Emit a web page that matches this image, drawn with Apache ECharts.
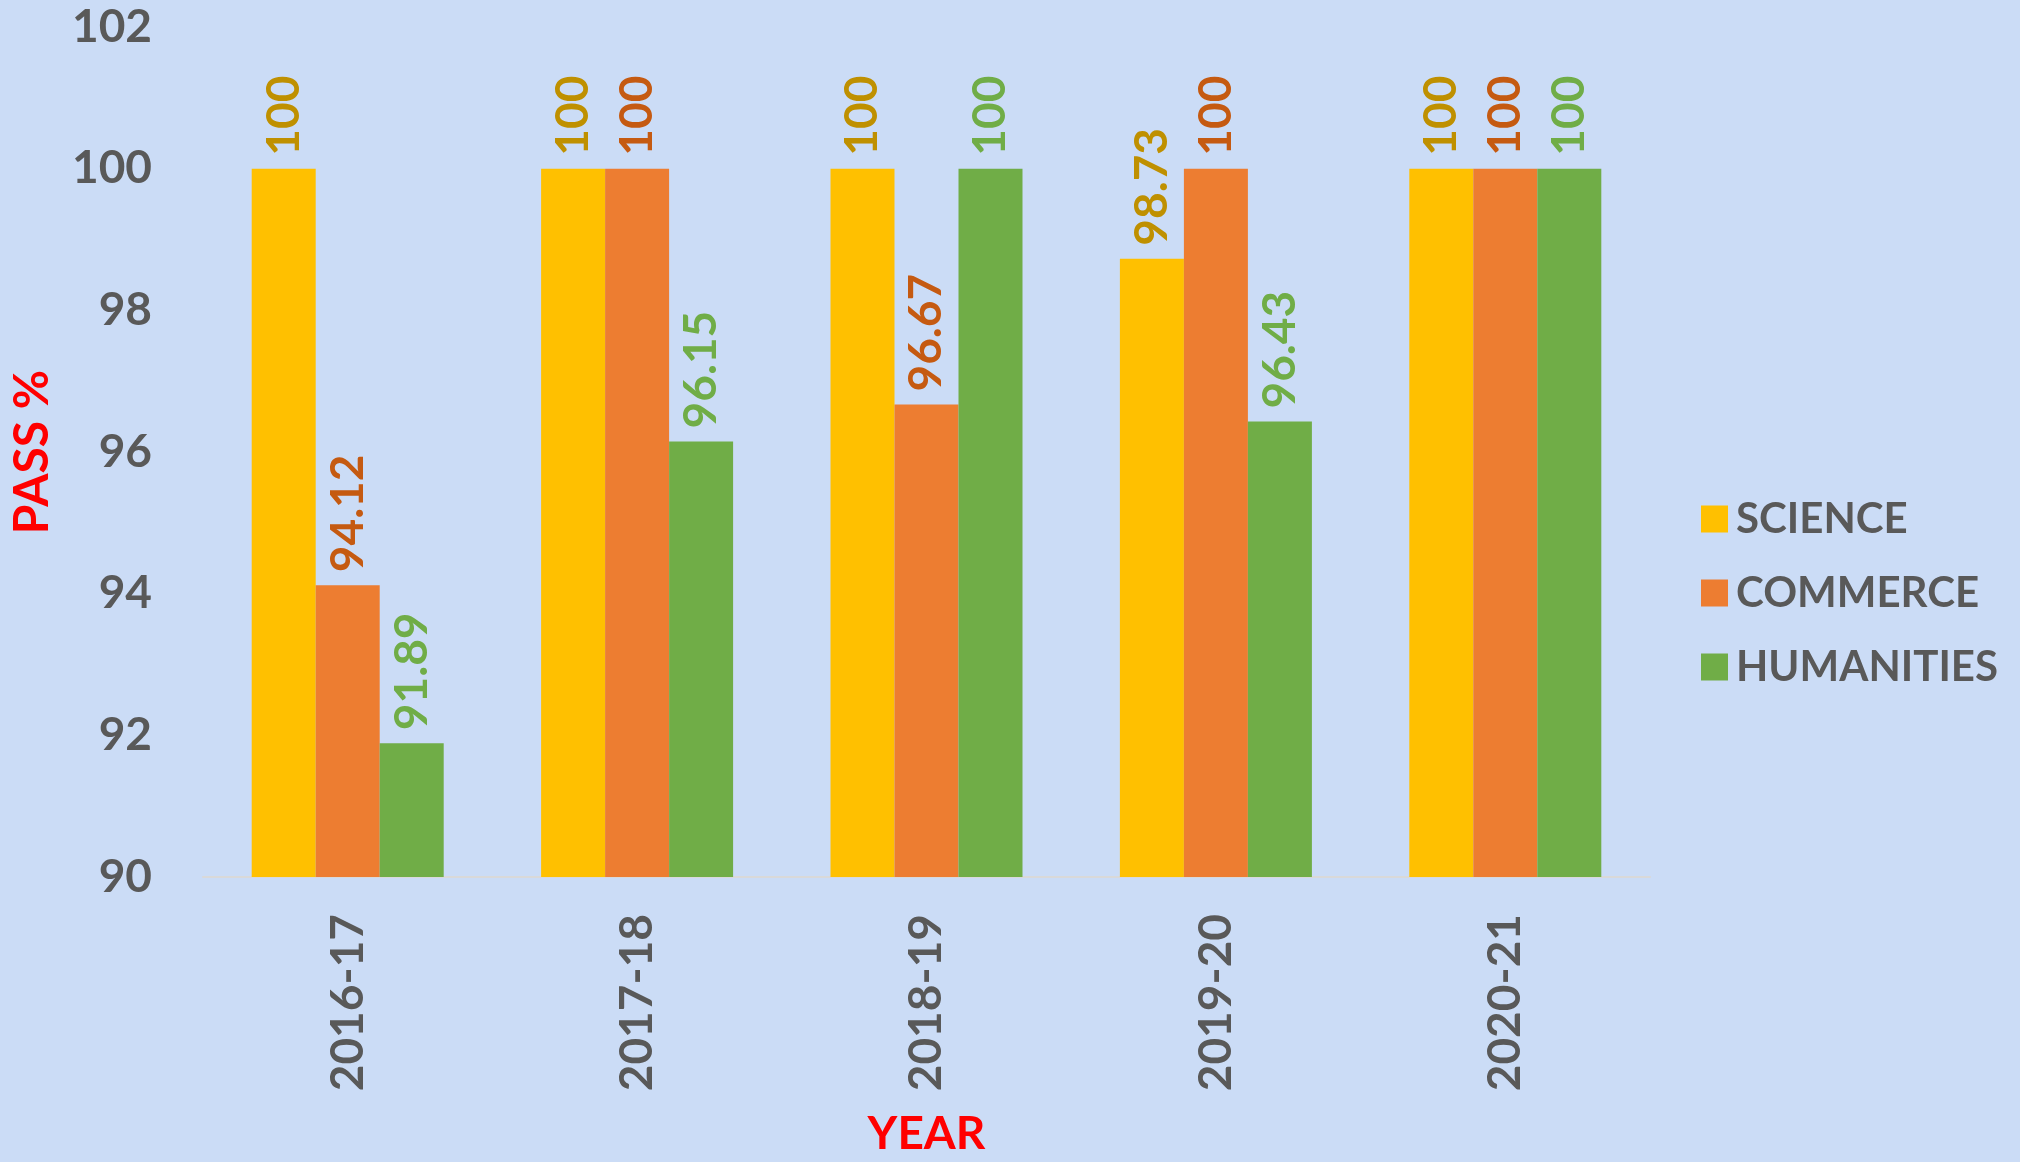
<!DOCTYPE html>
<html>
<head>
<meta charset="utf-8">
<script src="https://cdn.jsdelivr.net/npm/echarts@6/dist/echarts.min.js"></script>
<style>
  html, body { margin: 0; padding: 0; background: #cbdcf6; }
  #main { width: 2020px; height: 1162px; }
</style>
</head>
<body>
<div id="main"></div>
<script>
// data
var years = ['2016-17', '2017-18', '2018-19', '2019-20', '2020-21'];
var science = [100, 100, 100, 98.73, 100];
var commerce = [94.12, 100, 96.67, 100, 100];
var humanities = [91.89, 96.15, 100, 96.43, 100];
var yTicks = { min: 90, max: 102, step: 2 };

var font = 'Lato';
var grey = '#595959';

function barSeries(name, data, color, labelColor) {
  return {
    name: name,
    type: 'bar',
    data: data,
    barWidth: 64,
    barGap: '0%',
    itemStyle: { color: color },
    label: {
      show: true,
      position: 'top',
      distance: 13,
      rotate: 90,
      align: 'left',
      verticalAlign: 'middle',
      color: labelColor,
      fontFamily: font,
      fontWeight: 'bold',
      fontSize: 46
    }
  };
}

var myChart = echarts.init(document.getElementById('main'));
myChart.setOption({
  backgroundColor: '#cbdcf6',
  animation: false,
  grid: { left: 203, right: 370, top: 27, bottom: 277 },
  legend: {
    orient: 'vertical',
    left: 1696,
    top: 493,
    icon: 'rect',
    itemWidth: 27,
    itemHeight: 27,
    itemGap: 32,
    textStyle: {
      color: grey,
      fontFamily: font,
      fontWeight: 'bold',
      fontSize: 42,
      lineHeight: 42,
      padding: [0, 0, 0, 3]
    },
    data: ['SCIENCE', 'COMMERCE', 'HUMANITIES']
  },
  xAxis: {
    type: 'category',
    data: years,
    name: 'YEAR',
    nameLocation: 'middle',
    nameGap: 234,
    nameTextStyle: { color: '#ff0000', fontFamily: font, fontWeight: 'bold', fontSize: 46 },
    axisLine: { lineStyle: { color: '#d9d9d9', width: 2 } },
    axisTick: { show: false },
    axisLabel: {
      rotate: 90,
      margin: 37,
      color: grey,
      fontFamily: font,
      fontWeight: 'bold',
      fontSize: 46
    }
  },
  yAxis: {
    type: 'value',
    min: yTicks.min,
    max: yTicks.max,
    interval: yTicks.step,
    name: 'PASS %',
    nameLocation: 'middle',
    nameRotate: 90,
    nameGap: 146,
    nameTextStyle: { color: '#ff0000', fontFamily: font, fontWeight: 'bold', fontSize: 48 },
    splitLine: { show: false },
    axisLine: { show: false },
    axisTick: { show: false },
    axisLabel: {
      margin: 51,
      color: grey,
      fontFamily: font,
      fontWeight: 'bold',
      fontSize: 46
    }
  },
  series: [
    barSeries('SCIENCE', science, '#ffc000', '#bf9000'),
    barSeries('COMMERCE', commerce, '#ed7d31', '#c55a11'),
    barSeries('HUMANITIES', humanities, '#70ad47', '#70ad47')
  ]
});
window.onresize = myChart.resize;
</script>
</body>
</html>
